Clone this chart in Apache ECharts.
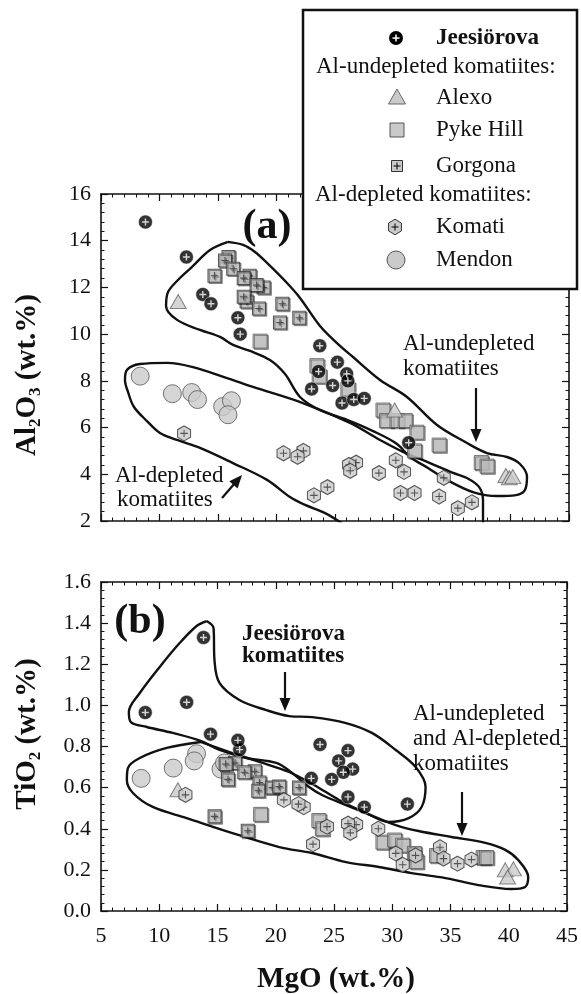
<!DOCTYPE html>
<html><head><meta charset="utf-8">
<script src="https://cdn.jsdelivr.net/npm/echarts@6/dist/echarts.min.js"></script>
<style>html,body{margin:0;padding:0;background:#fff}#c{width:581px;height:994px}</style>
</head><body><div id="c"></div>
<script>
const FONT = '"Liberation Serif","Times New Roman",serif';

// ---------- Panel (a): MgO vs Al2O3 ----------
const jeesA = [[8.8,14.8],[12.3,13.3],[13.7,11.7],[14.4,11.3],[16.7,10.7],[16.9,10.0],[23.7,9.5],[25.2,8.8],[23.6,8.4],[26.0,8.3],[26.1,8.0],[23.0,7.65],[24.8,7.8],[25.6,7.05],[26.6,7.2],[27.5,7.25],[31.3,5.35]];
const alexoA = [[11.6,11.4],[30.1,6.75],[39.6,3.95],[39.9,3.85],[40.2,3.9]];
const pykeA = [[18.6,9.7],[23.45,8.65],[23.65,8.2],[26.1,7.65],[29.1,6.75],[29.4,6.3],[30.3,6.3],[31.0,6.3],[32.0,5.8],[31.8,5.0],[33.9,5.25],[37.5,4.5],[38.0,4.35]];
const gorgonaA = [[15.9,13.3],[15.6,13.15],[16.3,12.8],[14.7,12.5],[17.7,12.5],[17.2,12.4],[18.9,12.0],[18.3,12.1],[17.45,11.4],[17.2,11.6],[18.5,11.1],[20.5,11.3],[20.3,10.5],[21.95,10.7]];
const komatiA = [[12.1,5.75],[22.3,5.0],[20.6,4.9],[21.8,4.75],[26.8,4.5],[26.2,4.4],[26.3,4.15],[23.2,3.1],[24.35,3.45],[28.75,4.05],[30.2,4.6],[30.9,4.1],[30.6,3.2],[31.8,3.2],[34.3,3.85],[33.9,3.05],[35.5,2.55],[36.7,2.8]];
const mendonA = [[8.35,8.2],[11.1,7.45],[12.75,7.5],[13.25,7.2],[15.4,6.9],[16.15,7.15],[15.85,6.55]];
const envA_undepleted = [[15.85,13.95],[17.14,13.82],[18.16,13.52],[19.19,13.05],[20.9,12.19],[22.01,11.55],[23.72,10.35],[25.17,9.62],[26.54,9.02],[28.85,8.04],[31.15,7.31],[33.72,6.11],[36.28,5.34],[37.99,4.91],[39.7,4.74],[40.81,4.44],[41.41,3.89],[41.24,3.33],[40.47,3.11],[38.85,3.07],[36.79,3.24],[34.57,3.76],[32.95,4.27],[31.41,4.74],[30.3,5.3],[28.25,5.85],[26.03,6.33],[23.72,6.75],[22.01,7.31],[20.73,8.29],[19.44,8.89],[17.74,9.28],[16.28,9.54],[15.17,9.88],[13.46,10.18],[11.5,10.61],[10.56,11.21],[10.73,11.8],[11.58,12.32],[12.78,12.88],[14.32,13.6],[15.85,13.95]];
const envA_depleted = [[37.65,1.8],[37.65,2.9],[37.31,3.46],[36.28,3.84],[35.09,4.06],[33.12,4.48],[30.81,4.96],[28.85,5.47],[26.28,6.2],[22.26,7.05],[17.99,7.74],[15.77,8.12],[12.86,8.59],[10.64,8.77],[8.33,8.72],[7.22,8.47],[7.05,8.04],[7.31,7.52],[7.82,6.88],[8.93,6.28],[10.04,5.77],[11.5,5.47],[13.46,5.13],[16.28,4.48],[19.19,3.76],[21.15,3.03],[22.44,2.69],[24.15,2.34],[25.6,1.9]];

// ---------- Panel (b): MgO vs TiO2 ----------
const jeesB = [[8.8,0.965],[12.35,1.015],[13.8,1.33],[14.4,0.86],[16.9,0.785],[16.75,0.83],[23.8,0.81],[26.2,0.78],[25.4,0.73],[26.6,0.69],[25.8,0.675],[24.8,0.64],[23.05,0.645],[26.2,0.555],[27.6,0.505],[31.3,0.52]];
const alexoB = [[11.6,0.59],[39.7,0.2],[40.4,0.205],[39.9,0.165]];
const pykeB = [[18.7,0.47],[23.7,0.44],[24.0,0.4],[29.2,0.335],[30.2,0.345],[30.9,0.32],[31.9,0.28],[32.1,0.24],[33.8,0.27],[37.8,0.26],[38.1,0.26]];
const gorgonaB = [[16.5,0.72],[15.7,0.715],[15.9,0.64],[18.2,0.68],[17.3,0.675],[18.6,0.625],[18.5,0.585],[19.7,0.6],[20.3,0.605],[22.0,0.6],[14.75,0.46],[17.6,0.39]];
const komatiB = [[12.25,0.565],[22.4,0.505],[20.7,0.54],[21.95,0.52],[26.9,0.42],[26.2,0.425],[26.4,0.38],[24.4,0.41],[23.2,0.325],[28.8,0.4],[30.3,0.28],[30.9,0.225],[32.0,0.27],[34.1,0.31],[34.4,0.255],[35.6,0.23],[36.8,0.25]];
const mendonB = [[8.45,0.645],[11.2,0.695],[13.2,0.765],[13.0,0.73],[15.3,0.69],[15.6,0.72]];
const envB_jees = [[14.06,1.41],[14.66,1.376],[14.74,1.221],[15.17,1.109],[16.88,1.026],[19.19,0.977],[21.15,0.948],[23.12,0.943],[26.03,0.914],[28.25,0.866],[30.3,0.783],[32.01,0.7],[32.86,0.603],[32.52,0.506],[31.41,0.452],[29.7,0.433],[27.74,0.476],[26.03,0.515],[23.97,0.564],[22.86,0.603],[21.41,0.671],[20.04,0.72],[17.48,0.744],[15.17,0.783],[13.55,0.827],[11.15,0.866],[8.93,0.895],[7.56,0.919],[7.39,0.968],[8.33,1.06],[10.04,1.187],[11.75,1.303],[13.21,1.386],[14.06,1.41]];
const envB_komatiites = [[13.55,0.822],[16.03,0.773],[18.59,0.725],[21.15,0.676],[23.29,0.613],[25.43,0.54],[27.56,0.481],[30.3,0.418],[32.26,0.389],[35.09,0.36],[37.99,0.331],[39.7,0.297],[40.81,0.248],[41.67,0.165],[41.41,0.117],[40.21,0.107],[37.39,0.126],[34.57,0.16],[31.67,0.184],[28.85,0.214],[26.03,0.238],[23.12,0.282],[20.3,0.311],[16.28,0.379],[12.35,0.452],[9.44,0.506],[7.74,0.574],[7.22,0.637],[7.31,0.695],[8.33,0.744],[10.64,0.793],[13.55,0.822]];

// axis ticks
const xTickStep = 5, xRange = [5, 45];
const yARange = [2, 16], yAStep = 2;
const yBRange = [0, 1.6], yBStep = 0.2;

const GRAY = '#cacaca';
const SQ_PLUS = 'path://M0,0H10V10H0Z M5,2.2V7.8 M2.2,5H7.8';
const HEX_PLUS = 'path://M5,0L9.33,2.5L9.33,7.5L5,10L0.67,7.5L0.67,2.5Z M5,2.5V7.5 M2.5,5H7.5';
const PLUS_W = 'path://M4,0H6V4H10V6H6V10H4V6H0V4H4Z';
const SHADOW = {shadowColor:'rgba(0,0,0,0.45)', shadowOffsetX:1.3, shadowOffsetY:1.3, shadowBlur:0};

function xAx(gi, pos, labels) {
  return {type:'value', gridIndex:gi, position:pos, min:xRange[0], max:xRange[1], interval:xTickStep,
    axisLine:{show:true, onZero:false, lineStyle:{color:'#111', width:1.6}},
    axisTick:{show:true, inside:true, length:7, lineStyle:{color:'#111', width:1.2}},
    minorTick:{show:true, splitNumber:5, length:3.5, lineStyle:{color:'#111', width:1}},
    axisLabel:{show:labels, fontFamily:FONT, fontSize:22, color:'#111', margin:14},
    splitLine:{show:false}, minorSplitLine:{show:false}};
}
function yAx(gi, pos, labels, range, step, fmt) {
  return {type:'value', gridIndex:gi, position:pos, min:range[0], max:range[1], interval:step,
    axisLine:{show:true, onZero:false, lineStyle:{color:'#111', width:1.6}},
    axisTick:{show:true, inside:true, length:7, lineStyle:{color:'#111', width:1.2}},
    minorTick:{show:true, splitNumber:5, length:3.5, lineStyle:{color:'#111', width:1}},
    axisLabel:{show:labels, fontFamily:FONT, fontSize:22, color:'#111', margin:10, formatter:fmt},
    splitLine:{show:false}, minorSplitLine:{show:false}};
}

function panel(xi, yi, envs, d) {
  const base = {xAxisIndex:xi, yAxisIndex:yi, silent:true, animation:false};
  const s = [];
  envs.forEach(e => s.push(Object.assign({type:'line', data:e, smooth:0.35, symbol:'none', showSymbol:false,
    lineStyle:{color:'#111', width:2.4}, z:2}, base)));
  s.push(Object.assign({type:'scatter', data:d.mendon, symbol:'circle', symbolSize:18,
    itemStyle:{color:GRAY, borderColor:'#555', borderWidth:1}, z:3}, base));
  s.push(Object.assign({type:'scatter', data:d.pyke, symbol:'rect', symbolSize:14,
    itemStyle:Object.assign({color:GRAY, borderColor:'#555', borderWidth:1}, SHADOW), z:3}, base));
  s.push(Object.assign({type:'scatter', data:d.alexo, symbol:'triangle', symbolSize:[16,14],
    itemStyle:{color:GRAY, borderColor:'#666', borderWidth:1}, z:3}, base));
  s.push(Object.assign({type:'scatter', data:d.gorgona, symbol:SQ_PLUS, symbolSize:13,
    itemStyle:Object.assign({color:GRAY, borderColor:'#333', borderWidth:1.1}, SHADOW), z:4}, base));
  s.push(Object.assign({type:'scatter', data:d.komati, symbol:HEX_PLUS, symbolSize:[13,15],
    itemStyle:{color:GRAY, borderColor:'#333', borderWidth:1.1}, z:4}, base));
  s.push(Object.assign({type:'scatter', data:d.jees, symbol:'circle', symbolSize:14,
    itemStyle:{color:'#000', borderColor:'#fff', borderWidth:0.6}, z:5}, base));
  s.push(Object.assign({type:'scatter', data:d.jees, symbol:PLUS_W, symbolSize:7,
    itemStyle:{color:'#fff'}, z:6}, base));
  return s;
}

const series = [].concat(
  panel(0, 0, [envA_undepleted, envA_depleted], {mendon:mendonA, pyke:pykeA, alexo:alexoA, gorgona:gorgonaA, komati:komatiA, jees:jeesA}),
  panel(2, 2, [envB_jees, envB_komatiites], {mendon:mendonB, pyke:pykeB, alexo:alexoB, gorgona:gorgonaB, komati:komatiB, jees:jeesB})
);

// ----- graphic: labels, annotations, legend -----
function T(text, x, y, o) {
  return {type:'text', x:x, y:y, z:60, style:Object.assign({text:text, fill:'#111', fontFamily:FONT, fontSize:23, align:'left', verticalAlign:'middle'}, o||{})};
}
function arrow(x1, y1, x2, y2) {
  const dx = x2-x1, dy = y2-y1, L = Math.hypot(dx, dy), ux = dx/L, uy = dy/L, hl = 13, hw = 5.5;
  const bx = x2-ux*hl, by = y2-uy*hl;
  return [{type:'line', z:60, shape:{x1:x1, y1:y1, x2:bx+ux, y2:by+uy}, style:{stroke:'#111', lineWidth:2.2}},
          {type:'polygon', z:60, shape:{points:[[x2,y2],[bx-uy*hw,by+ux*hw],[bx+uy*hw,by-ux*hw]]}, style:{fill:'#111'}}];
}
function hexPts(cx, cy, r) {
  const p = [];
  for (let i = 0; i < 6; i++) { const a = Math.PI/2 + i*Math.PI/3; p.push([cx + r*Math.cos(a)*0.95, cy - r*Math.sin(a)]); }
  return p;
}
const LZ = 110;
const legend = [
  {type:'rect', z:LZ, shape:{x:303, y:10, width:274, height:279}, style:{fill:'#fff', stroke:'#111', lineWidth:2.5}},
  {type:'circle', z:LZ+1, shape:{cx:396, cy:38, r:7}, style:{fill:'#000'}},
  {type:'rect', z:LZ+2, shape:{x:392.5, y:37.3, width:7, height:1.5}, style:{fill:'#fff'}},
  {type:'rect', z:LZ+2, shape:{x:395.25, y:34.5, width:1.5, height:7}, style:{fill:'#fff'}},
  {type:'polygon', z:LZ+1, shape:{points:[[397,89],[405.5,104],[388.5,104]]}, style:{fill:GRAY, stroke:'#666', lineWidth:1}},
  {type:'rect', z:LZ+1, shape:{x:390, y:123, width:14, height:14}, style:{fill:GRAY, stroke:'#555', lineWidth:1}},
  {type:'rect', z:LZ+1, shape:{x:391.5, y:160.5, width:11, height:11}, style:{fill:GRAY, stroke:'#333', lineWidth:1}},
  {type:'line', z:LZ+2, shape:{x1:397, y1:162.5, x2:397, y2:169.5}, style:{stroke:'#111', lineWidth:1.1}},
  {type:'line', z:LZ+2, shape:{x1:393.5, y1:166, x2:400.5, y2:166}, style:{stroke:'#111', lineWidth:1.1}},
  {type:'polygon', z:LZ+1, shape:{points:hexPts(395,227,7.8)}, style:{fill:GRAY, stroke:'#333', lineWidth:1}},
  {type:'line', z:LZ+2, shape:{x1:395, y1:223.5, x2:395, y2:230.5}, style:{stroke:'#111', lineWidth:1.1}},
  {type:'line', z:LZ+2, shape:{x1:391.5, y1:227, x2:398.5, y2:227}, style:{stroke:'#111', lineWidth:1.1}},
  {type:'circle', z:LZ+1, shape:{cx:396, cy:260, r:9}, style:{fill:GRAY, stroke:'#555', lineWidth:1}},
];
['Jeesiörova','Al-undepleted komatiites:','Alexo','Pyke Hill','Gorgona','Al-depleted komatiites:','Komati','Mendon'].forEach((t, i) => {
  const pos = [[436,38],[316,67],[436,98],[436,130],[436,166],[315,195],[436,227],[436,260]][i];
  const g = T(t, pos[0], pos[1], i === 0 ? {fontWeight:'bold'} : {});
  g.z = LZ + 3; legend.push(g);
});

const subRich = {
  b:{fontFamily:FONT, fontSize:29, fontWeight:'bold', fill:'#111', lineHeight:32},
  s:{fontFamily:FONT, fontSize:17, fontWeight:'bold', fill:'#111', lineHeight:14, verticalAlign:'bottom'}
};
const graphic = [].concat(
  [
    T('(a)', 267, 227, {fontSize:42, fontWeight:'bold', align:'center'}),
    T('(b)', 140, 622, {fontSize:42, fontWeight:'bold', align:'center'}),
    T('Al-undepleted', 403, 344), T('komatiites', 403, 369),
    T('Al-depleted', 115, 476), T('komatiites', 117, 500),
    T('Jeesiörova', 242, 634, {fontWeight:'bold'}), T('komatiites', 242, 656, {fontWeight:'bold'}),
    T('Al-undepleted', 413, 714), T('and Al-depleted', 413, 739), T('komatiites', 413, 764),
    T('MgO (wt.%)', 336, 980, {fontSize:29, fontWeight:'bold', align:'center'}),
    {type:'text', x:28, y:375, rotation:Math.PI/2, z:60, style:{text:'{b|Al}{s|2}{b|O}{s|3}{b| (wt.%)}', rich:subRich, align:'center', verticalAlign:'middle'}},
    {type:'text', x:28, y:734, rotation:Math.PI/2, z:60, style:{text:'{b|TiO}{s|2}{b| (wt.%)}', rich:subRich, align:'center', verticalAlign:'middle'}}
  ],
  arrow(476, 388, 476, 442),
  arrow(222, 498, 242, 475),
  arrow(285, 672, 285, 711),
  arrow(462, 792, 462, 836),
  legend
);

const chart = echarts.init(document.getElementById('c'), null, {renderer:'canvas'});
chart.setOption({
  animation:false,
  backgroundColor:'#fff',
  grid:[{left:101, top:194, width:468, height:327}, {left:101, top:582, width:468, height:329}],
  xAxis:[xAx(0,'bottom',false), xAx(0,'top',false), xAx(1,'bottom',true), xAx(1,'top',false)],
  yAxis:[yAx(0,'left',true,yARange,yAStep), yAx(0,'right',false,yARange,yAStep),
         yAx(1,'left',true,yBRange,yBStep,v=>v.toFixed(1)), yAx(1,'right',false,yBRange,yBStep)],
  series:series,
  graphic:graphic
});
</script></body></html>
